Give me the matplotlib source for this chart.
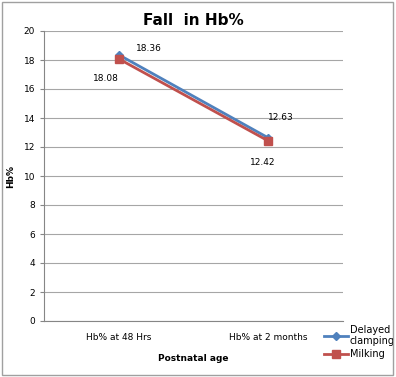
import matplotlib
matplotlib.use('Agg')
from matplotlib import pyplot as plt
from matplotlib.patches import Rectangle

categories = ['Hb% at 48 Hrs', 'Hb% at 2 months']
delayed = [18.36, 12.63]
milking = [18.08, 12.42]

fig = plt.figure(figsize=(3.96, 3.77), dpi=100)
ax = fig.add_axes([44/396, 1 - 321/377, 299/396, 290/377])

x = [0.5, 1.5]
ax.plot(x, delayed, color='#4F81BD', lw=2, marker='D', ms=4.5, label='Delayed\nclamping', zorder=3)
ax.plot(x, milking, color='#C0504D', lw=2, marker='s', ms=6, label='Milking', zorder=3)

ax.set_xlim(0, 2)
ax.set_ylim(0, 20)
ax.set_yticks(range(0, 21, 2))
ax.set_xticks(x)
ax.set_xticklabels(categories)
ax.tick_params(axis='both', labelsize=6.5, colors='#000000')
ax.tick_params(axis='x', length=0, pad=9)
ax.tick_params(axis='y', length=3, color='#868686')
ax.grid(axis='y', color='#A6A6A6', lw=0.8)
ax.set_axisbelow(True)
for s in ['top', 'right']:
    ax.spines[s].set_visible(False)
ax.spines['left'].set_color('#868686')
ax.spines['bottom'].set_color('#868686')

# data labels
ax.annotate('%.2f' % delayed[0], (x[0], delayed[0]), xytext=(22, 3), textcoords='offset points', fontsize=6.5, ha='center')
ax.annotate('%.2f' % milking[0], (x[0], milking[0]), xytext=(-9, -16), textcoords='offset points', fontsize=6.5, ha='center')
ax.annotate('%.2f' % delayed[1], (x[1], delayed[1]), xytext=(9, 13), textcoords='offset points', fontsize=6.5, ha='center')
ax.annotate('%.2f' % milking[1], (x[1], milking[1]), xytext=(-4, -17), textcoords='offset points', fontsize=6.5, ha='center')

ax.set_title('Fall  in Hb%', fontsize=11, fontweight='bold', pad=4)
ax.set_ylabel('Hb%', fontsize=6.5, fontweight='bold', labelpad=6)
ax.set_xlabel('Postnatal age', fontsize=6.5, fontweight='bold', labelpad=8)

ax.legend(loc='upper left', bbox_to_anchor=(0.925, 0.0), frameon=False, fontsize=7,
          handlelength=2.4, handletextpad=0.2, labelspacing=0.25, borderaxespad=0)

fig.patches.append(Rectangle((2/396, 2/377), 391/396, 373/377, transform=fig.transFigure,
                             fill=False, edgecolor='#A0A0A0', lw=1))

fig.savefig('out.png', dpi=100)
